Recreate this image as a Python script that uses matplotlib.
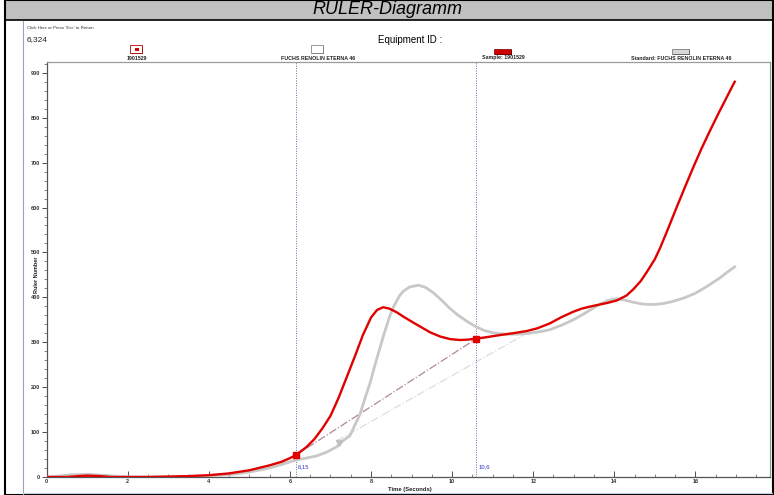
import matplotlib
matplotlib.use("Agg")
import matplotlib.pyplot as plt
from matplotlib.patches import Rectangle
from matplotlib.lines import Line2D
from matplotlib.ticker import MultipleLocator

plt.rcParams['font.family'] = ['Liberation Sans', 'DejaVu Sans']

# sample curve (red)
sample_t = [0.0, 0.5, 0.8, 1.0, 1.3, 1.6, 2.0, 2.5, 3.0, 3.5, 4.0, 4.5, 5.0, 5.5, 5.8,
            6.0, 6.15, 6.4, 6.6, 6.8, 7.0, 7.2, 7.4, 7.6, 7.8, 8.0, 8.15, 8.3, 8.45,
            8.63, 8.8, 9.04, 9.25, 9.46, 9.7, 9.95, 10.2, 10.4, 10.6, 10.9, 11.18,
            11.5, 11.84, 12.1, 12.41, 12.7, 12.99, 13.2, 13.48, 13.8, 14.06, 14.3,
            14.47, 14.65, 14.8, 15.0, 15.13, 15.3, 15.54, 15.75, 15.95, 16.15, 16.36,
            16.56, 16.77, 16.9, 16.97]
sample_v = [0, 0, 2, 3, 2, 0, 0, 0, 1, 2, 4, 8, 15, 26, 34,
            42, 49, 66, 84, 108, 136, 176, 222, 268, 316, 355, 372, 378, 375,
            367, 357, 344, 333, 322, 313, 307, 305, 306, 308, 312, 316,
            320, 325, 331, 342, 356, 368, 375, 381, 387, 393, 404,
            418, 436, 456, 485, 510, 547, 601, 647, 690, 731, 771,
            808, 845, 868, 880]

# standard curve (grey)
std_t = [0.0, 0.3, 0.6, 1.0, 1.4, 1.8, 2.2, 3.0, 4.0, 4.5, 5.0, 5.5, 5.8, 6.15, 6.4,
         6.66, 6.9, 7.15, 7.3, 7.48, 7.6, 7.73, 7.85, 7.98, 8.1, 8.3, 8.45, 8.55,
         8.7, 8.8, 8.95, 9.17, 9.35, 9.54, 9.75, 9.95, 10.15, 10.36, 10.6, 10.8,
         11.02, 11.3, 11.59, 11.9, 12.2, 12.41, 12.7, 12.99, 13.3, 13.65, 13.85,
         14.06, 14.3, 14.47, 14.7, 14.96, 15.2, 15.4, 15.7, 16.0, 16.28, 16.6,
         16.8, 16.97]
std_v = [0, 2, 5, 6, 4, 1, 0, 0, 2, 5, 11, 20, 28, 38, 42,
         47, 55, 67, 80, 92, 115, 140, 175, 210, 250, 312, 355, 378,
         403, 414, 423, 427, 422, 410, 393, 375, 360, 347, 334, 326,
         321, 318, 318, 320, 324, 328, 338, 350, 366, 385, 393,
         397, 393, 389, 385, 384, 386, 390, 398, 409, 424, 443,
         457, 468]

cursor_t = [6.15, 10.6]
cursor_labels = ["6,15", "10,6"]
sample_marks_t = [6.15, 10.6]
sample_marks_v = [49, 308]
std_mark = (7.2, 75)
sample_tangent = ([6.15, 10.6], [49, 308])
std_tangent = ([7.15, 11.8], [80, 318])

W, H = 774, 495
fig = plt.figure(figsize=(W / 100, H / 100), dpi=100)
fig.patch.set_facecolor('white')


def fx(x):
    return x / W


def fy(y):
    return 1 - y / H


# frame and title band
fig.add_artist(Rectangle((fx(5), fy(20)), fx(768), 20 / H, facecolor='#c0c0c0',
                         edgecolor='none', transform=fig.transFigure))
fig.add_artist(Rectangle((fx(5), 0), fx(768), 1, facecolor='none', edgecolor='black',
                         lw=1.5, transform=fig.transFigure))
fig.add_artist(Line2D([fx(5), fx(773)], [fy(20), fy(20)], color='black', lw=1.2,
                      transform=fig.transFigure))
fig.add_artist(Line2D([fx(23), fx(23)], [fy(21), 0], color='#9aa4b8', lw=0.8,
                      transform=fig.transFigure))
fig.add_artist(Line2D([fx(23), fx(772)], [fy(493), fy(493)], color='#c4d0e0', lw=0.8,
                      transform=fig.transFigure))
fig.text(fx(387), fy(9), "RULER-Diagramm", ha='center', va='center', fontsize=13,
         style='italic')

fig.text(fx(27), fy(28), "Click Here or Press 'Esc' to Return", fontsize=3.2,
         va='center', color='#333333')
fig.text(fx(27), fy(40), "6,324", fontsize=6, va='center', color='#222222')
fig.text(fx(410), fy(40), "Equipment ID :", fontsize=7, ha='center', va='center')

# legend icons
legend_x = [137, 318, 503, 681]
legend_labels = ["1901529", "FUCHS RENOLIN ETERNA 46", "Sample: 1901529",
                 "Standard: FUCHS RENOLIN ETERNA 46"]
for i, (lx, lab) in enumerate(zip(legend_x, legend_labels)):
    fig.text(fx(lx), fy(58), lab, fontsize=3.8, ha='center', va='center',
             fontweight='bold', color='#222222')
    if i < 2:
        fig.add_artist(Rectangle((fx(lx - 6), fy(54)), 12 / W, 8 / H, facecolor='black',
                                 edgecolor='none', transform=fig.transFigure))
        fig.add_artist(Rectangle((fx(lx - 7), fy(53)), 12 / W, 8 / H,
                                 facecolor='white',
                                 edgecolor='#c00000' if i == 0 else '#888888', lw=0.6,
                                 transform=fig.transFigure))
        if i == 0:
            fig.add_artist(Rectangle((fx(lx - 2.5), fy(51)), 4 / W, 3 / H,
                                     facecolor='#e00000', edgecolor='none',
                                     transform=fig.transFigure))
    else:
        fig.add_artist(Rectangle((fx(lx - 8), fy(55)), 17 / W, 5 / H, facecolor='black',
                                 edgecolor='none', transform=fig.transFigure))
        fig.add_artist(Rectangle((fx(lx - 9), fy(54)), 17 / W, 5 / H,
                                 facecolor='#d00000' if i == 2 else '#d8d8d8',
                                 edgecolor='#700000' if i == 2 else '#666666', lw=0.5,
                                 transform=fig.transFigure))

ax = fig.add_axes([fx(46.6), fy(477), (770 - 46.6) / W, (477 - 62) / H])
ax.set_xlim(0, 17.84)
ax.set_ylim(0, 924)

for t in cursor_t:
    ax.axvline(t, color='#6a6aa8', lw=0.7, ls=(0, (1, 1.5)), zorder=1)
for t, lab in zip(cursor_t, cursor_labels):
    ax.text(t + 0.04, 22, lab, fontsize=4.2, color='#3030c0', va='center')

ax.plot(*std_tangent, color='#e4d8de', lw=0.9, ls='-.', zorder=2)
ax.plot(*sample_tangent, color='#b08898', lw=0.9, ls='-.', zorder=2)
ax.plot(std_t, std_v, color='#c8c8c8', lw=2.0, zorder=3)
ax.plot(sample_t, sample_v, color='#e00000', lw=1.7, zorder=4)
ax.plot(*std_mark, marker='v', color='#c0c0c0', ms=5, zorder=5)
ax.plot(sample_marks_t, sample_marks_v, 's', color='#e00000', ms=4.5, zorder=5)

for s in ax.spines.values():
    s.set_color('#9a9a9a')
    s.set_linewidth(0.9)
ax.spines['left'].set_color('#555555')
ax.spines['bottom'].set_color('#555555')

ax.xaxis.set_major_locator(MultipleLocator(2))
ax.xaxis.set_minor_locator(MultipleLocator(0.5))
ax.yaxis.set_major_locator(MultipleLocator(100))
ax.yaxis.set_minor_locator(MultipleLocator(20))
ax.tick_params(axis='x', which='major', direction='in', length=4, width=0.6,
               pad=1.5, labelsize=4, colors='#333333')
ax.tick_params(axis='x', which='minor', direction='in', length=2.5, width=0.5,
               colors='#555555')
ax.tick_params(axis='y', which='major', direction='out', length=3.5, width=0.6,
               pad=1, labelsize=4, colors='#333333')
ax.tick_params(axis='y', which='minor', direction='out', length=2, width=0.5,
               colors='#555555')
for lab in ax.get_xticklabels() + ax.get_yticklabels():
    lab.set_fontweight('bold')

fig.text(fx(410), fy(490), "Time (Seconds)", fontsize=4.2, ha='center', va='center',
         fontweight='bold', color='#222222')
fig.text(fx(36), fy(275), "Ruler Number", fontsize=4.0, ha='center', va='center',
         rotation=90, fontweight='bold', color='#222222')

fig.savefig("out.png", dpi=100)
